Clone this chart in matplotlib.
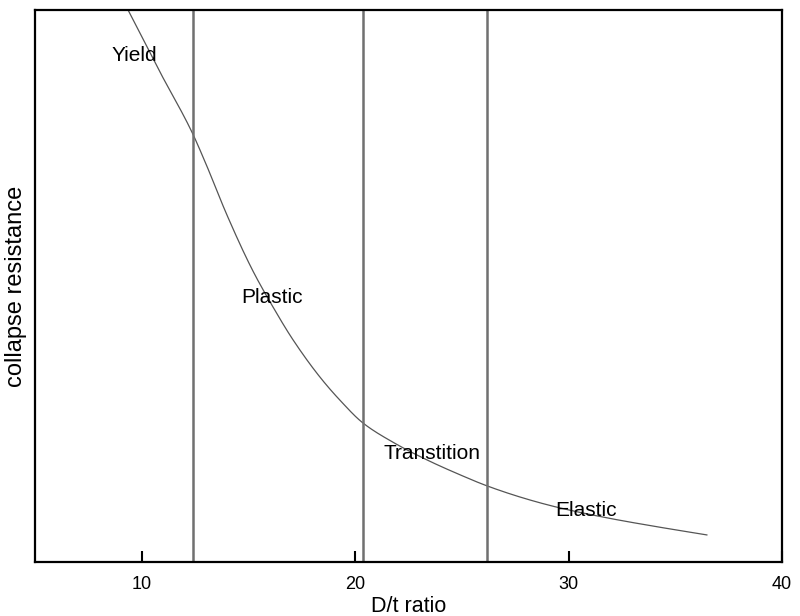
import matplotlib
matplotlib.use("Agg")
import matplotlib.pyplot as plt
import numpy as np

plt.rcParams['font.family'] = ['Liberation Sans', 'DejaVu Sans']

# Curve (D/t ratio vs relative collapse resistance)
dt_ratio = [9.36, 10.85, 12.35, 13.0, 14.0, 15.2, 16.15, 17.08, 18.35,
            19.29, 20.36, 21.77, 23.36, 24.91, 26.17, 28.04, 29.59,
            31.93, 34.27, 36.48]
collapse = [100.0, 88.8, 77.9, 72.2, 62.8, 52.8, 46.2, 40.3, 33.5,
            29.3, 25.2, 21.7, 18.5, 15.8, 13.8, 11.4, 9.8,
            7.9, 6.3, 4.9]

# Regime boundaries
boundaries = [12.40, 20.36, 26.17]

# Region labels
region_names = ["Yield", "Plastic", "Transtition", "Elastic"]
region_x = [9.66, 16.12, 23.6, 30.83]
region_y = [91.8, 48.0, 19.7, 9.3]

xticks = [10, 20, 30, 40]


def pchip(x, y, xn):
    h = np.diff(x)
    d = np.diff(y) / h
    m = np.zeros_like(y)
    for i in range(1, len(y) - 1):
        if d[i - 1] * d[i] > 0:
            w1 = 2 * h[i] + h[i - 1]
            w2 = h[i] + 2 * h[i - 1]
            m[i] = (w1 + w2) / (w1 / d[i - 1] + w2 / d[i])
    m[0] = d[0]
    m[-1] = d[-1]
    out = np.empty_like(xn)
    for j, xv in enumerate(xn):
        i = min(max(np.searchsorted(x, xv) - 1, 0), len(x) - 2)
        t = (xv - x[i]) / h[i]
        h00 = 2 * t**3 - 3 * t**2 + 1
        h10 = t**3 - 2 * t**2 + t
        h01 = -2 * t**3 + 3 * t**2
        h11 = t**3 - t**2
        out[j] = h00 * y[i] + h10 * h[i] * m[i] + h01 * y[i + 1] + h11 * h[i] * m[i + 1]
    return out


fig = plt.figure(figsize=(8, 6.16), dpi=100)
ax = fig.add_axes([0.04375, 0.0877, 0.93375, 0.8961])

xs = np.array(dt_ratio)
ys = np.array(collapse)
xn = np.linspace(xs[0], xs[-1], 500)
yn = pchip(xs, ys, xn)
ax.plot(xn, yn, color='#555555', lw=0.9)

for b in boundaries:
    ax.axvline(b, color='#707070', lw=1.8)

for name, x, y in zip(region_names, region_x, region_y):
    ax.text(x, y, name, ha='center', va='center', fontsize=15, color='black')

ax.set_xlim(5, 40)
ax.set_ylim(0, 100)
ax.set_xticks(xticks)
ax.set_yticks([])
ax.tick_params(axis='x', direction='in', length=8, width=1.5, pad=10,
               labelsize=13, top=False)
for s in ax.spines.values():
    s.set_linewidth(1.6)
    s.set_color('black')

ax.set_xlabel("D/t ratio", fontsize=15.5, labelpad=2)
ax.set_ylabel("collapse resistance", fontsize=17, labelpad=6)

fig.savefig("out.png", dpi=100)
